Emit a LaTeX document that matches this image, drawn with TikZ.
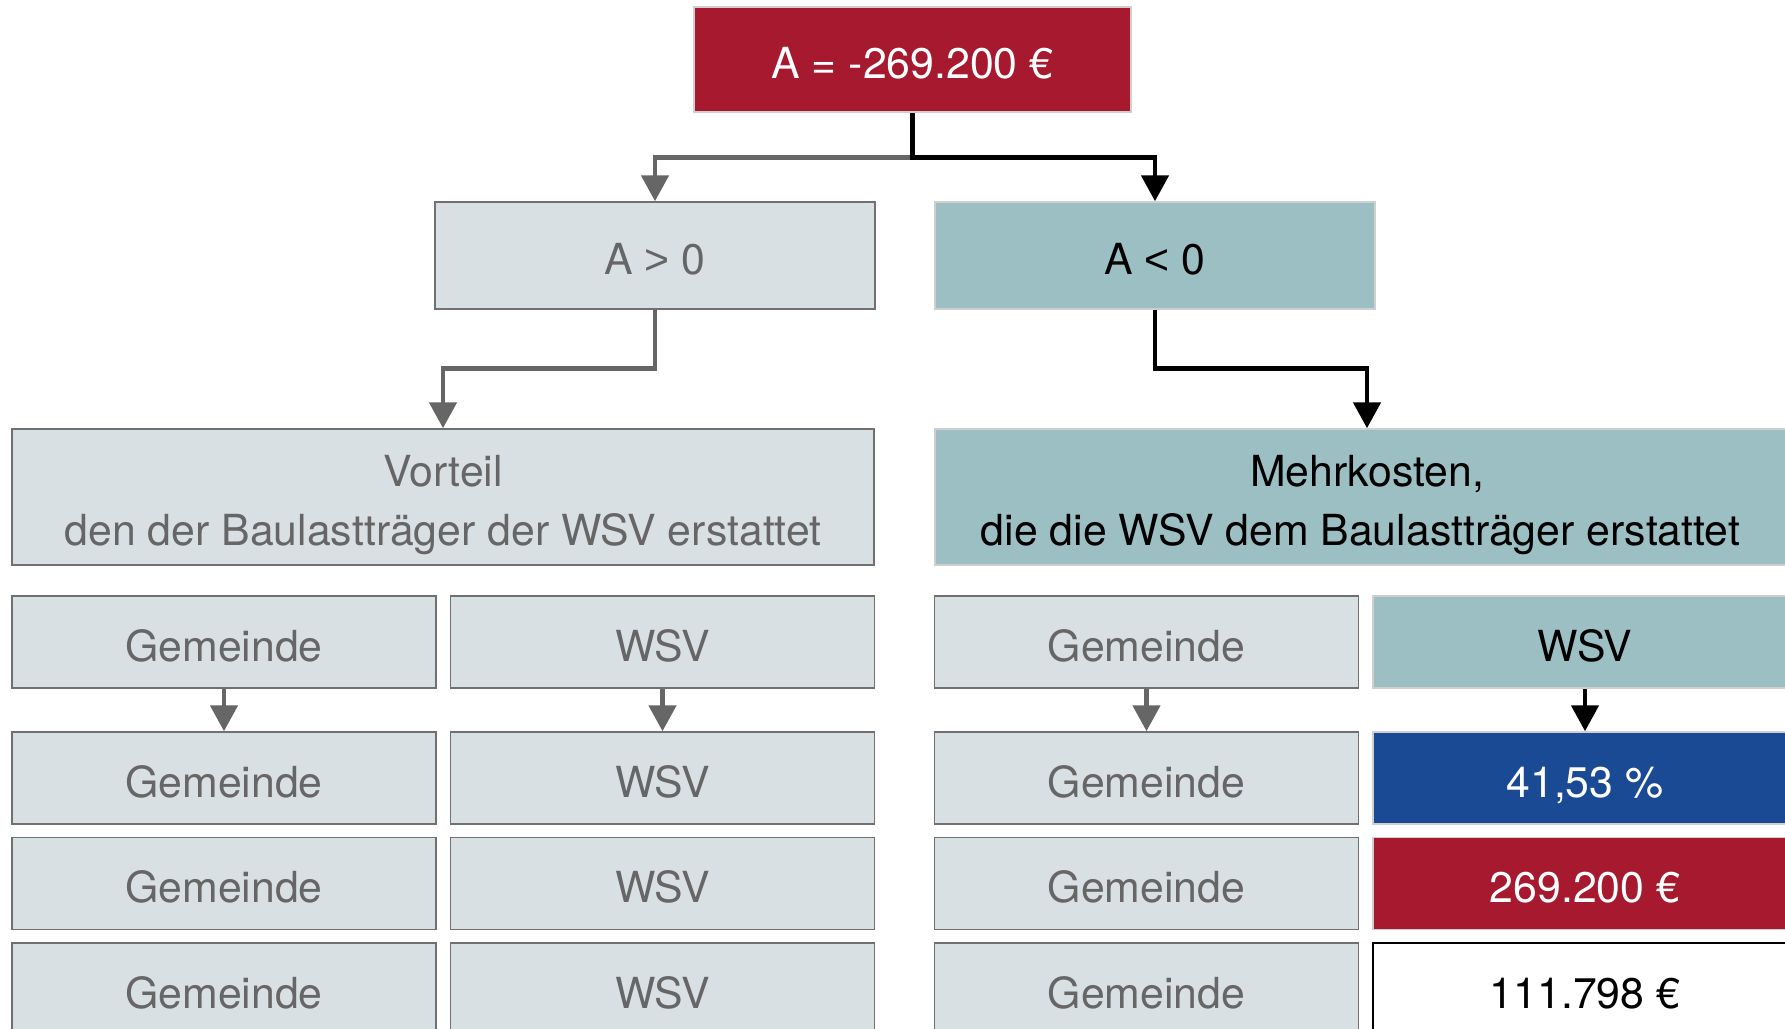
\documentclass[tikz,border=0pt]{standalone}
\usepackage{fontspec}
\setmainfont{TeX Gyre Heros}
\newfontfamily\relfont{Liberation Sans}
\usetikzlibrary{arrows.meta}
\definecolor{boxgray}{HTML}{D9E0E3}
\definecolor{bordergray}{HTML}{707070}
\definecolor{textgray}{HTML}{666666}
\definecolor{tealfill}{HTML}{9BBFC3}
\definecolor{lightborder}{HTML}{CFCFCF}
\definecolor{redfill}{HTML}{A6192E}
\definecolor{bluefill}{HTML}{1B4A94}
\definecolor{arrowgray}{HTML}{666666}
\begin{document}
\begin{tikzpicture}[x=0.5pt,y=-0.5pt,
  base/.style={rectangle, inner sep=0pt, font=\fontsize{21.4}{29.65}\selectfont, align=center, line width=0.75pt, text height=19pt, text depth=0pt},
  twoline/.style={text height=48.6pt, text depth=0pt},
  graybox/.style={base, fill=boxgray, draw=bordergray, text=textgray},
  tealbox/.style={base, fill=tealfill, draw=lightborder, text=black},
  redbox/.style={base, fill=redfill, draw=lightborder, text=white},
  bluebox/.style={base, fill=bluefill, draw=lightborder, text=white},
  whitebox/.style={base, fill=white, draw=black, line width=1pt, text=black},
  rowbox/.style={minimum width=212pt, minimum height=46pt},
  condbox/.style={minimum width=220pt, minimum height=53.5pt},
  bigbox/.style={minimum width=432pt, minimum height=68pt},
  garrow/.style={draw=arrowgray, line width=2.4pt, -{Triangle[width=13.5pt,length=13pt]}},
  barrow/.style={draw=black, line width=2.4pt, -{Triangle[width=13.5pt,length=13pt]}}
]
\useasboundingbox (0,0) rectangle (1785,1029);
\clip (0,0) rectangle (1785,1029);

% top
\node[redbox, minimum width=218.5pt, minimum height=52.5pt] (top) at (912.5,59.5) {A = -269.200 €};
% conditions
\node[graybox, condbox] (agt) at (655,255.5) {A {\relfont >} 0};
\node[tealbox, condbox] (alt) at (1155,255.5) {A {\relfont <} 0};
% big boxes
\node[graybox, twoline, minimum width=431pt, minimum height=68pt] (vort) at (443,497) {Vorteil\\den der Baulastträger der WSV erstattet};
\node[tealbox, twoline, bigbox] (mehr) at (1367,497) {Mehrkosten,\\die die WSV dem Baulastträger erstattet\hspace*{6.5pt}};

% rows
\node[graybox, rowbox] (g11) at (224,642) {Gemeinde};
\node[graybox, rowbox] (w11) at (662.5,642) {WSV};
\node[graybox, rowbox] (g21) at (1146.5,642) {Gemeinde};
\node[tealbox, rowbox] (w21) at (1585,642) {WSV};

\node[graybox, rowbox] (g12) at (224,778) {Gemeinde};
\node[graybox, rowbox] (w12) at (662.5,778) {WSV};
\node[graybox, rowbox] (g22) at (1146.5,778) {Gemeinde};
\node[bluebox, rowbox] (w22) at (1585,778) {41,53 \%};

\node[graybox, rowbox] (g13) at (224,883.5) {Gemeinde};
\node[graybox, rowbox] (w13) at (662.5,883.5) {WSV};
\node[graybox, rowbox] (g23) at (1146.5,883.5) {Gemeinde};
\node[redbox, rowbox] (w23) at (1585,883.5) {269.200 €};

\node[graybox, rowbox] (g14) at (224,989) {Gemeinde};
\node[graybox, rowbox] (w14) at (662.5,989) {WSV};
\node[graybox, rowbox] (g24) at (1146.5,989) {Gemeinde};
\node[whitebox, rowbox] (w24) at (1585,989) {111.798 €};

% connectors
\draw[garrow] (top.south) -- ++(0,45) -| (agt.north);
\draw[barrow] (top.south) -- ++(0,45) -| (alt.north);
\draw[garrow] (agt.south) -- ++(0,59) -| (vort.north);
\draw[barrow] (alt.south) -- ++(0,59) -| (mehr.north);

\draw[garrow] (g11.south) -- (g12.north);
\draw[garrow] (w11.south) -- (w12.north);
\draw[garrow] (g21.south) -- (g22.north);
\draw[barrow] (w21.south) -- (w22.north);
\end{tikzpicture}
\end{document}
